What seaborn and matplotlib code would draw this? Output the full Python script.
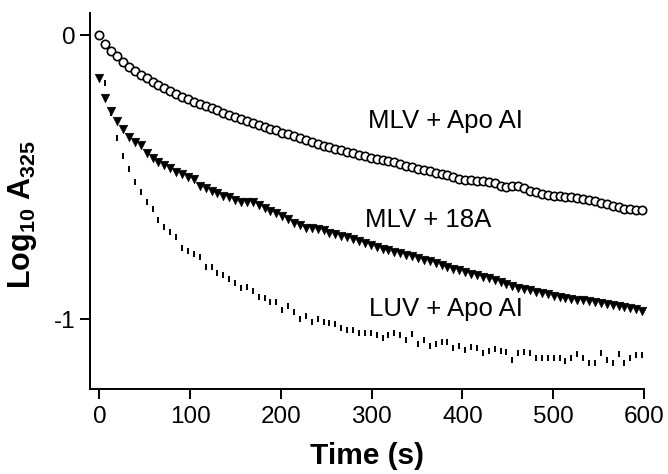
import matplotlib
matplotlib.use("Agg")
import matplotlib.pyplot as plt
import numpy as np
import pandas as pd
import seaborn as sns

# ---------------- data ----------------
# sampling times (s)
time_mlv = [round(6.5 * k, 1) for k in range(93)]        # 0 ... 598
time_luv = [round(6.5 * k, 1) for k in range(1, 93)]     # 6.5 ... 598

mlv_apoai = [
    0.000, -0.033, -0.055, -0.074, -0.094, -0.111, -0.127, -0.140, -0.153, -0.165,
    -0.177, -0.188, -0.198, -0.208, -0.217, -0.226, -0.235, -0.243, -0.251, -0.258,
    -0.265, -0.274, -0.281, -0.288, -0.295, -0.302, -0.309, -0.316, -0.323, -0.330,
    -0.336, -0.344, -0.350, -0.357, -0.364, -0.371, -0.378, -0.384, -0.389, -0.395,
    -0.400, -0.406, -0.411, -0.416, -0.421, -0.427, -0.432, -0.437, -0.441, -0.444,
    -0.448, -0.455, -0.461, -0.466, -0.471, -0.476, -0.480, -0.484, -0.489, -0.494,
    -0.500, -0.507, -0.511, -0.512, -0.513, -0.513, -0.516, -0.522, -0.530, -0.535,
    -0.532, -0.530, -0.540, -0.549, -0.554, -0.559, -0.563, -0.565, -0.567, -0.569,
    -0.571, -0.574, -0.578, -0.582, -0.585, -0.590, -0.596, -0.601, -0.606, -0.611,
    -0.614, -0.616, -0.617,
]

mlv_18a = [
    -0.153, -0.223, -0.266, -0.302, -0.332, -0.358, -0.378, -0.387, -0.417, -0.434,
    -0.446, -0.458, -0.469, -0.481, -0.489, -0.499, -0.507, -0.531, -0.540, -0.548,
    -0.557, -0.566, -0.571, -0.581, -0.589, -0.589, -0.589, -0.599, -0.610, -0.620,
    -0.628, -0.637, -0.648, -0.660, -0.669, -0.678, -0.681, -0.684, -0.687, -0.698,
    -0.702, -0.706, -0.711, -0.718, -0.725, -0.733, -0.740, -0.747, -0.753, -0.758,
    -0.762, -0.767, -0.773, -0.779, -0.785, -0.791, -0.797, -0.804, -0.810, -0.816,
    -0.822, -0.828, -0.834, -0.840, -0.845, -0.850, -0.855, -0.861, -0.868, -0.875,
    -0.882, -0.889, -0.894, -0.899, -0.904, -0.909, -0.913, -0.917, -0.921, -0.925,
    -0.928, -0.931, -0.934, -0.937, -0.940, -0.943, -0.946, -0.950, -0.953, -0.957,
    -0.961, -0.966, -0.973,
]

luv_apoai = [
    -0.168, -0.275, -0.364, -0.426, -0.470, -0.517, -0.552, -0.587, -0.613, -0.651,
    -0.675, -0.694, -0.712, -0.748, -0.761, -0.771, -0.783, -0.816, -0.816, -0.837,
    -0.845, -0.859, -0.872, -0.892, -0.886, -0.900, -0.921, -0.927, -0.939, -0.939,
    -0.968, -0.954, -0.976, -1.000, -0.990, -1.009, -0.998, -1.009, -1.015, -1.018,
    -1.033, -1.039, -1.039, -1.050, -1.050, -1.050, -1.056, -1.065, -1.056, -1.050,
    -1.056, -1.074, -1.053, -1.088, -1.074, -1.095, -1.086, -1.080, -1.080, -1.103,
    -1.095, -1.109, -1.097, -1.100, -1.121, -1.112, -1.106, -1.112, -1.115, -1.144,
    -1.121, -1.117, -1.121, -1.138, -1.138, -1.138, -1.138, -1.138, -1.147, -1.138,
    -1.123, -1.138, -1.154, -1.156, -1.121, -1.144, -1.156, -1.123, -1.156, -1.138,
    -1.127, -1.127,
]

series_labels = ["MLV + Apo AI", "MLV + 18A", "LUV + Apo AI"]
x_ticks = [0, 100, 200, 300, 400, 500, 600]
y_ticks = [0, -1]
y_tick_labels = ["0", "-1"]

df_apo = pd.DataFrame({"t": time_mlv, "v": mlv_apoai})
df_18a = pd.DataFrame({"t": time_mlv, "v": mlv_18a})
df_luv = pd.DataFrame({"t": time_luv, "v": luv_apoai})

# ---------------- style ----------------
sns.set_style("ticks")
plt.rcParams["font.family"] = ["Liberation Sans", "DejaVu Sans"]
plt.rcParams["mathtext.fontset"] = "custom"
plt.rcParams["mathtext.rm"] = "Liberation Sans"
plt.rcParams["mathtext.bf"] = "Liberation Sans:bold"
plt.rcParams["mathtext.it"] = "Liberation Sans:italic"
plt.rcParams["text.color"] = "black"
plt.rcParams["axes.labelcolor"] = "black"
plt.rcParams["xtick.color"] = "black"
plt.rcParams["ytick.color"] = "black"

fig = plt.figure(figsize=(6.68, 4.74), dpi=100)
ax = fig.add_axes([0.1347, 0.1793, 0.8293, 0.7933])

sns.scatterplot(data=df_luv, x="t", y="v", marker="|", s=24, color="black",
                linewidth=1.4, ax=ax, clip_on=False, zorder=3)
sns.scatterplot(data=df_18a, x="t", y="v", marker="v", s=38, color="black",
                edgecolor="black", linewidth=0.4, ax=ax, clip_on=False, zorder=4)
sns.scatterplot(data=df_apo, x="t", y="v", marker="o", s=36, facecolor="white",
                edgecolor="black", linewidth=1.2, ax=ax, clip_on=False, zorder=5)

ax.set_xlim(-10.4, 600)
ax.set_ylim(-1.246, 0.0775)
ax.set_xticks(x_ticks)
ax.set_yticks(y_ticks)
ax.set_yticklabels(y_tick_labels)

for s in ["top", "right"]:
    ax.spines[s].set_visible(False)
for s in ["left", "bottom"]:
    ax.spines[s].set_linewidth(1.4)
    ax.spines[s].set_color("black")

ax.tick_params(axis="both", direction="out", length=7.5, width=1.4,
               colors="black", labelsize=17.5)
ax.tick_params(axis="x", pad=5)
ax.tick_params(axis="y", pad=3)

ax.set_xlabel("Time (s)", fontsize=21.5, fontweight="bold")
ax.xaxis.set_label_coords(0.5, -0.178)
ax.xaxis.label.set_va("center")

ax.set_ylabel(r"$\mathbf{Log_{10}\ A_{325}}$", fontsize=22)
ax.yaxis.set_label_coords(-0.1227, 0.465)
ax.yaxis.label.set_va("center")

ax.text(381, -0.327, series_labels[0], ha="center", va="baseline", fontsize=18.5)
ax.text(362, -0.676, series_labels[1], ha="center", va="baseline", fontsize=18.5)
ax.text(382, -0.989, series_labels[2], ha="center", va="baseline", fontsize=18.5)

fig.savefig("out.png", dpi=100)
